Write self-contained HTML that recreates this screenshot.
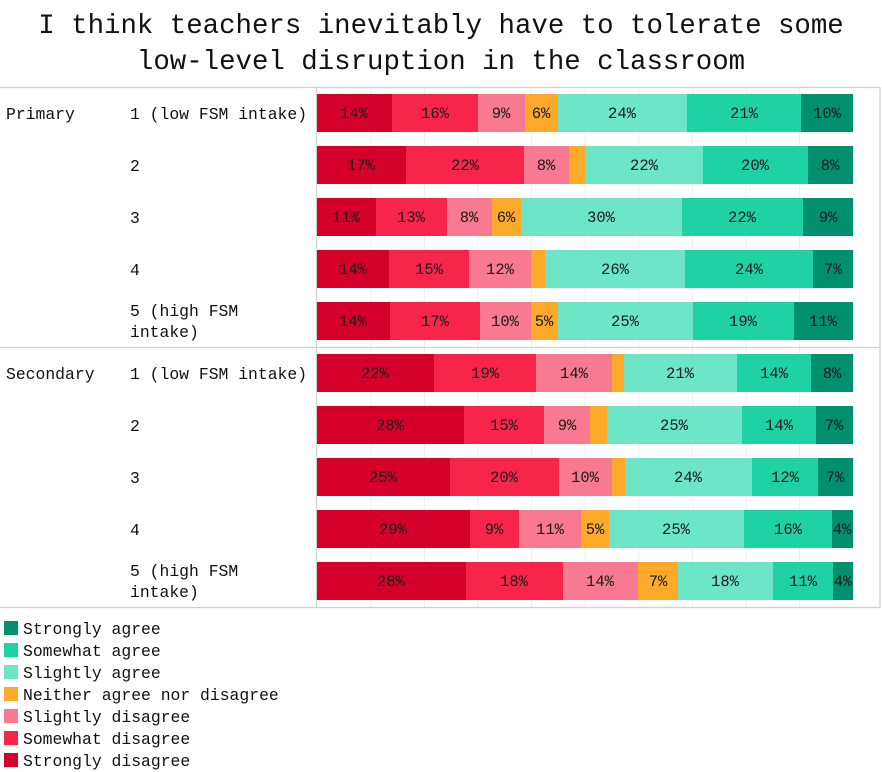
<!DOCTYPE html>
<html><head><meta charset="utf-8"><style>
html,body{margin:0;padding:0;background:#fff;}
svg{display:block;font-family:"Liberation Mono","DejaVu Sans Mono",monospace;}
</style></head><body>
<svg width="882" height="772" viewBox="0 0 882 772" xmlns="http://www.w3.org/2000/svg">
<g font-size="27.4" text-anchor="middle" fill="#111">
<text x="441" y="33">I think teachers inevitably have to tolerate some</text>
<text x="441" y="69">low-level disruption in the classroom</text>
</g>
<g stroke="#f0f0f0" stroke-width="1">
<line x1="371" y1="88" x2="371" y2="607"/><line x1="424.5" y1="88" x2="424.5" y2="607"/><line x1="478" y1="88" x2="478" y2="607"/><line x1="531.5" y1="88" x2="531.5" y2="607"/><line x1="585" y1="88" x2="585" y2="607"/><line x1="639" y1="88" x2="639" y2="607"/><line x1="692.5" y1="88" x2="692.5" y2="607"/><line x1="746" y1="88" x2="746" y2="607"/><line x1="799.5" y1="88" x2="799.5" y2="607"/>
</g>
<g stroke="#d0d0d0" stroke-width="1.3" fill="none">
<line x1="0" y1="87.5" x2="880" y2="87.5"/><line x1="0" y1="347.5" x2="880" y2="347.5"/><line x1="0" y1="607.5" x2="880" y2="607.5"/>
<line x1="316.5" y1="87" x2="316.5" y2="608"/><line x1="880" y1="87" x2="880" y2="608"/>
</g>
<g font-size="16.4" fill="#111">
<text x="6" y="119">Primary</text><text x="6" y="379">Secondary</text>
<text x="130" y="119">1 (low FSM intake)</text><text x="130" y="171">2</text><text x="130" y="223">3</text><text x="130" y="275">4</text>
<text x="130" y="316">5 (high FSM</text><text x="130" y="337">intake)</text>
<text x="130" y="379">1 (low FSM intake)</text><text x="130" y="431">2</text><text x="130" y="483">3</text><text x="130" y="535">4</text>
<text x="130" y="576">5 (high FSM</text><text x="130" y="597">intake)</text>
</g>
<!-- bars: y top = center-19 -->
<g>
<!-- R1 -->
<rect x="317" y="94" width="75" height="38" fill="#d50029"/><rect x="392" y="94" width="86" height="38" fill="#f8254a"/><rect x="478" y="94" width="47" height="38" fill="#f87a90"/><rect x="525" y="94" width="33" height="38" fill="#fda92a"/><rect x="558" y="94" width="129" height="38" fill="#6de6c8"/><rect x="687" y="94" width="114" height="38" fill="#1ed2a4"/><rect x="801" y="94" width="52" height="38" fill="#009070"/>
<!-- R2 -->
<rect x="317" y="146" width="89" height="38" fill="#d50029"/><rect x="406" y="146" width="118" height="38" fill="#f8254a"/><rect x="524" y="146" width="45" height="38" fill="#f87a90"/><rect x="569" y="146" width="16" height="38" fill="#fda92a"/><rect x="585" y="146" width="118" height="38" fill="#6de6c8"/><rect x="703" y="146" width="105" height="38" fill="#1ed2a4"/><rect x="808" y="146" width="45" height="38" fill="#009070"/>
<!-- R3 -->
<rect x="317" y="198" width="59" height="38" fill="#d50029"/><rect x="376" y="198" width="71" height="38" fill="#f8254a"/><rect x="447" y="198" width="45" height="38" fill="#f87a90"/><rect x="492" y="198" width="29" height="38" fill="#fda92a"/><rect x="521" y="198" width="161" height="38" fill="#6de6c8"/><rect x="682" y="198" width="121" height="38" fill="#1ed2a4"/><rect x="803" y="198" width="50" height="38" fill="#009070"/>
<!-- R4 -->
<rect x="317" y="250" width="72" height="38" fill="#d50029"/><rect x="389" y="250" width="80" height="38" fill="#f8254a"/><rect x="469" y="250" width="62" height="38" fill="#f87a90"/><rect x="531" y="250" width="14" height="38" fill="#fda92a"/><rect x="545" y="250" width="140" height="38" fill="#6de6c8"/><rect x="685" y="250" width="128" height="38" fill="#1ed2a4"/><rect x="813" y="250" width="40" height="38" fill="#009070"/>
<!-- R5 -->
<rect x="317" y="302" width="73" height="38" fill="#d50029"/><rect x="390" y="302" width="90" height="38" fill="#f8254a"/><rect x="480" y="302" width="51" height="38" fill="#f87a90"/><rect x="531" y="302" width="27" height="38" fill="#fda92a"/><rect x="558" y="302" width="135" height="38" fill="#6de6c8"/><rect x="693" y="302" width="101" height="38" fill="#1ed2a4"/><rect x="794" y="302" width="59" height="38" fill="#009070"/>
<!-- S1 -->
<rect x="317" y="354" width="117" height="38" fill="#d50029"/><rect x="434" y="354" width="102" height="38" fill="#f8254a"/><rect x="536" y="354" width="76" height="38" fill="#f87a90"/><rect x="612" y="354" width="12" height="38" fill="#fda92a"/><rect x="624" y="354" width="113" height="38" fill="#6de6c8"/><rect x="737" y="354" width="74" height="38" fill="#1ed2a4"/><rect x="811" y="354" width="42" height="38" fill="#009070"/>
<!-- S2 -->
<rect x="317" y="406" width="147" height="38" fill="#d50029"/><rect x="464" y="406" width="80" height="38" fill="#f8254a"/><rect x="544" y="406" width="46" height="38" fill="#f87a90"/><rect x="590" y="406" width="17" height="38" fill="#fda92a"/><rect x="607" y="406" width="135" height="38" fill="#6de6c8"/><rect x="742" y="406" width="74" height="38" fill="#1ed2a4"/><rect x="816" y="406" width="37" height="38" fill="#009070"/>
<!-- S3 -->
<rect x="317" y="458" width="133" height="38" fill="#d50029"/><rect x="450" y="458" width="109" height="38" fill="#f8254a"/><rect x="559" y="458" width="53" height="38" fill="#f87a90"/><rect x="612" y="458" width="13" height="38" fill="#fda92a"/><rect x="625" y="458" width="127" height="38" fill="#6de6c8"/><rect x="752" y="458" width="66" height="38" fill="#1ed2a4"/><rect x="818" y="458" width="35" height="38" fill="#009070"/>
<!-- S4 -->
<rect x="317" y="510" width="153" height="38" fill="#d50029"/><rect x="470" y="510" width="49" height="38" fill="#f8254a"/><rect x="519" y="510" width="62" height="38" fill="#f87a90"/><rect x="581" y="510" width="28" height="38" fill="#fda92a"/><rect x="609" y="510" width="135" height="38" fill="#6de6c8"/><rect x="744" y="510" width="88" height="38" fill="#1ed2a4"/><rect x="832" y="510" width="21" height="38" fill="#009070"/>
<!-- S5 -->
<rect x="317" y="562" width="149" height="38" fill="#d50029"/><rect x="466" y="562" width="97" height="38" fill="#f8254a"/><rect x="563" y="562" width="75" height="38" fill="#f87a90"/><rect x="638" y="562" width="40" height="38" fill="#fda92a"/><rect x="678" y="562" width="95" height="38" fill="#6de6c8"/><rect x="773" y="562" width="60" height="38" fill="#1ed2a4"/><rect x="833" y="562" width="20" height="38" fill="#009070"/>
</g>
<g font-size="15.5" text-anchor="middle" fill="#1a1a1a">
<text x="354" y="118">14%</text><text x="435" y="118">16%</text><text x="501" y="118">9%</text><text x="541" y="118">6%</text><text x="622" y="118">24%</text><text x="744" y="118">21%</text><text x="827" y="118">10%</text>
<text x="361" y="170">17%</text><text x="465" y="170">22%</text><text x="546" y="170">8%</text><text x="644" y="170">22%</text><text x="755" y="170">20%</text><text x="830" y="170">8%</text>
<text x="346" y="222">11%</text><text x="411" y="222">13%</text><text x="469" y="222">8%</text><text x="506" y="222">6%</text><text x="601" y="222">30%</text><text x="742" y="222">22%</text><text x="828" y="222">9%</text>
<text x="353" y="274">14%</text><text x="429" y="274">15%</text><text x="500" y="274">12%</text><text x="615" y="274">26%</text><text x="749" y="274">24%</text><text x="833" y="274">7%</text>
<text x="353" y="326">14%</text><text x="435" y="326">17%</text><text x="505" y="326">10%</text><text x="544" y="326">5%</text><text x="625" y="326">25%</text><text x="743" y="326">19%</text><text x="823" y="326">11%</text>
<text x="375" y="378">22%</text><text x="485" y="378">19%</text><text x="574" y="378">14%</text><text x="680" y="378">21%</text><text x="774" y="378">14%</text><text x="832" y="378">8%</text>
<text x="390" y="430">28%</text><text x="504" y="430">15%</text><text x="567" y="430">9%</text><text x="674" y="430">25%</text><text x="779" y="430">14%</text><text x="834" y="430">7%</text>
<text x="383" y="482">25%</text><text x="504" y="482">20%</text><text x="585" y="482">10%</text><text x="688" y="482">24%</text><text x="785" y="482">12%</text><text x="835" y="482">7%</text>
<text x="393" y="534">29%</text><text x="494" y="534">9%</text><text x="550" y="534">11%</text><text x="595" y="534">5%</text><text x="676" y="534">25%</text><text x="788" y="534">16%</text><text x="842" y="534">4%</text>
<text x="391" y="586">28%</text><text x="514" y="586">18%</text><text x="600" y="586">14%</text><text x="658" y="586">7%</text><text x="725" y="586">18%</text><text x="803" y="586">11%</text><text x="843" y="586">4%</text>
</g>
<g font-size="16.4" fill="#111">
<rect x="4" y="621" width="14" height="14" fill="#009070"/><text x="23" y="634">Strongly agree</text>
<rect x="4" y="643" width="14" height="14" fill="#1ed2a4"/><text x="23" y="656">Somewhat agree</text>
<rect x="4" y="665" width="14" height="14" fill="#6de6c8"/><text x="23" y="678">Slightly agree</text>
<rect x="4" y="687" width="14" height="14" fill="#fda92a"/><text x="23" y="700">Neither agree nor disagree</text>
<rect x="4" y="709" width="14" height="14" fill="#f87a90"/><text x="23" y="722">Slightly disagree</text>
<rect x="4" y="731" width="14" height="14" fill="#f8254a"/><text x="23" y="744">Somewhat disagree</text>
<rect x="4" y="753" width="14" height="14" fill="#d50029"/><text x="23" y="766">Strongly disagree</text>
</g>
</svg>
</body></html>
